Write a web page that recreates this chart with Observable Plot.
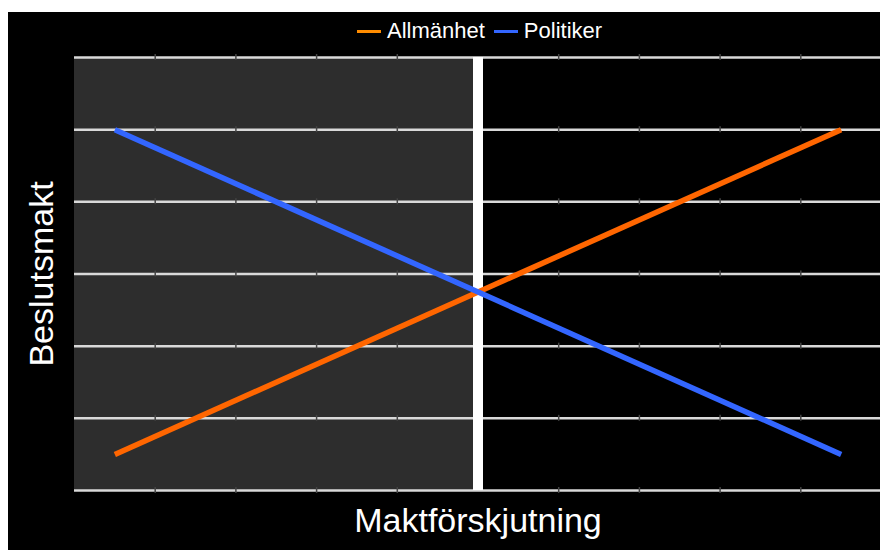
<!DOCTYPE html>
<html>
<head>
<meta charset="utf-8">
<script src="https://cdn.jsdelivr.net/npm/d3@7"></script>
<script src="https://cdn.jsdelivr.net/npm/@observablehq/plot@0.6"></script>
<style>
  html, body { margin: 0; padding: 0; background: #ffffff; overflow: hidden; }
  #frame { position: absolute; left: 8px; top: 12px; width: 872px; height: 538px; background: #000000; font-family: "Liberation Sans", Arial, sans-serif; }
  #legend { position: absolute; left: 349px; top: 0; height: 38px; display: flex; align-items: center; color: #ffffff; font-size: 22px; }
  #legend .item { display: flex; align-items: center; margin-right: 9px; }
  #legend .sw { width: 24px; height: 3px; margin-right: 6px; }
  #chart { position: absolute; left: 0; top: 38px; }
</style>
</head>
<body>
<div id="frame">
  <div id="legend"></div>
  <div id="chart"></div>
</div>
<script>
// Data
const series = ["Allmänhet", "Politiker"];
const xPositions = [0.5, 9.5];
const allmanhet = [0.5, 5];
const politiker = [5, 0.5];
const gridValues = [0, 1, 2, 3, 4, 5, 6];
const tickPositions = [1, 2, 3, 4, 6, 7, 8, 9];
const shadedRegion = [{x1: 0, x2: 5, y1: 0, y2: 6}];
const dividerX = [5];
const xLabel = "Maktförskjutning";
const yLabel = "Beslutsmakt";

const lineColors = {"Allmänhet": "#ff6600", "Politiker": "#3366ff"};
const legendColors = {"Allmänhet": "#ff8c00", "Politiker": "#3366ff"};

const lineData = [
  ...xPositions.map((x, i) => ({series: "Allmänhet", x, y: allmanhet[i]})),
  ...xPositions.map((x, i) => ({series: "Politiker", x, y: politiker[i]}))
];
const tickData = gridValues.flatMap(g => tickPositions.map(t => ({x: t, y: g})));

// Legend
const legend = document.getElementById("legend");
for (const s of series) {
  const item = document.createElement("div");
  item.className = "item";
  const sw = document.createElement("div");
  sw.className = "sw";
  sw.style.background = legendColors[s];
  const label = document.createElement("span");
  label.textContent = s;
  item.appendChild(sw);
  item.appendChild(label);
  legend.appendChild(item);
}

const chart = Plot.plot({
  width: 872,
  height: 500,
  marginLeft: 66,
  marginRight: -1,
  marginTop: 7,
  marginBottom: 60,
  style: {background: "#000000", fontFamily: "Liberation Sans, Arial, sans-serif", color: "#ffffff", overflow: "visible"},
  x: {domain: [0, 10], axis: null},
  y: {domain: [0, 6], axis: null},
  marks: [
    Plot.rect(shadedRegion, {x1: "x1", x2: "x2", y1: "y1", y2: "y2", fill: "#2d2d2d"}),
    Plot.ruleY(gridValues, {stroke: "#d9d9d9", strokeWidth: 2.5}),
    Plot.ruleX(tickData, {x: "x", y1: "y", y2: "y", insetTop: -3, insetBottom: -3, stroke: "#444444", strokeWidth: 1.5}),
    Plot.ruleX(dividerX, {y1: 0, y2: 6, stroke: "#ffffff", strokeWidth: 10}),
    Plot.line(lineData, {x: "x", y: "y", z: "series", stroke: d => lineColors[d.series], strokeWidth: 5.5, strokeLinecap: "butt"}),
    Plot.text([xLabel], {frameAnchor: "bottom", dy: 31, fontSize: 34, fill: "#ffffff", lineAnchor: "middle", textAnchor: "middle"}),
    Plot.text([yLabel], {frameAnchor: "left", dx: -32, rotate: -90, fontSize: 34, fill: "#ffffff", lineAnchor: "middle", textAnchor: "middle"})
  ]
});
document.getElementById("chart").appendChild(chart);
</script>
</body>
</html>
